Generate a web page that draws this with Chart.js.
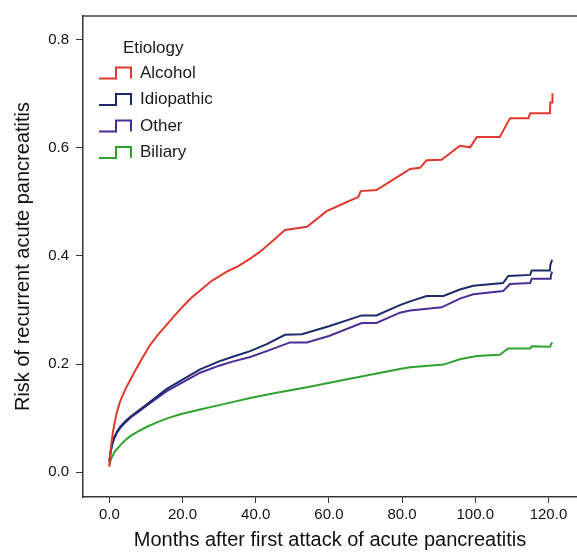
<!DOCTYPE html>
<html>
<head>
<meta charset="utf-8">
<script src="https://cdn.jsdelivr.net/npm/chart.js@4/dist/chart.umd.min.js"></script>
<style>
  html, body { margin: 0; padding: 0; background: #fff; }
  #wrap { width: 577px; height: 552px; }
</style>
</head>
<body>
<div id="wrap"><canvas id="riskChart" width="577" height="552"></canvas></div>
<script>
// Cumulative risk of recurrence
const alcoholMonths = [0, 0.2, 0.5, 1, 1.5, 2.1, 3, 4.5, 6.6, 8.5, 11.2, 13.5, 15.7, 18, 20.3, 22.5, 24.8, 28, 32.1, 34.9, 38.5, 41.2, 45, 48, 54, 59.4, 64, 68, 68.7, 73, 79.4, 82.2, 84.9, 86.7, 90.8, 95.8, 98.6, 100.4, 106.7, 109.5, 114.5, 115, 120.4, 120.5, 121, 121.1];
const alcoholRisk = [0.01, 0.03, 0.05, 0.075, 0.093, 0.112, 0.132, 0.155, 0.182, 0.205, 0.236, 0.256, 0.273, 0.291, 0.308, 0.323, 0.336, 0.354, 0.371, 0.38, 0.395, 0.408, 0.43, 0.448, 0.454, 0.483, 0.497, 0.509, 0.52, 0.522, 0.549, 0.561, 0.563, 0.577, 0.578, 0.604, 0.601, 0.62, 0.62, 0.655, 0.655, 0.664, 0.664, 0.684, 0.684, 0.701];

const idiopathicMonths = [0, 0.3, 0.7, 1.2, 2, 3, 4.5, 6, 8, 10, 13, 15.7, 19.4, 24.8, 30, 33.9, 38.5, 43, 48, 52.6, 60, 69, 73, 79.4, 82.2, 86.7, 91.3, 95.8, 99.5, 107.6, 109, 115, 115.4, 120.4, 120.5, 121];
const idiopathicRisk = [0.02, 0.036, 0.05, 0.062, 0.074, 0.084, 0.095, 0.104, 0.114, 0.124, 0.14, 0.154, 0.169, 0.19, 0.205, 0.214, 0.224, 0.237, 0.254, 0.255, 0.27, 0.29, 0.29, 0.309, 0.316, 0.326, 0.326, 0.338, 0.345, 0.35, 0.363, 0.365, 0.373, 0.373, 0.383, 0.393];

const otherMonths = [0, 0.3, 0.7, 1.2, 2, 3, 4.5, 6, 8, 10, 13, 15.7, 19.4, 24.8, 30, 33.9, 38.5, 43, 49.4, 54, 60, 69, 73, 79.4, 82.2, 90.8, 95.8, 99.5, 107.6, 109.5, 115, 115.4, 120.6, 120.7, 121];
const otherRisk = [0.02, 0.035, 0.049, 0.06, 0.072, 0.082, 0.093, 0.102, 0.112, 0.122, 0.137, 0.15, 0.164, 0.184, 0.197, 0.205, 0.213, 0.224, 0.24, 0.24, 0.252, 0.276, 0.276, 0.295, 0.299, 0.305, 0.321, 0.329, 0.335, 0.348, 0.35, 0.358, 0.358, 0.365, 0.371];

const biliaryMonths = [0, 0.3, 0.7, 1.5, 3, 4.5, 6, 8, 10.3, 13, 16, 19.4, 24.8, 30, 33.9, 38.5, 45, 54, 65, 79.4, 82.2, 91.3, 95.8, 100.4, 106.7, 109, 115, 115.4, 120.4, 121];
const biliaryRisk = [0.013, 0.021, 0.028, 0.038, 0.05, 0.06, 0.068, 0.076, 0.084, 0.092, 0.1, 0.107, 0.116, 0.124, 0.13, 0.137, 0.146, 0.157, 0.172, 0.191, 0.194, 0.199, 0.209, 0.215, 0.217, 0.229, 0.229, 0.233, 0.232, 0.24];

const seriesLabels = ['Alcohol', 'Idiopathic', 'Other', 'Biliary'];
const seriesColors = ['#e0392e', '#1c2a6a', '#4a2e98', '#2fa32f'];
const xTickValues = [0, 20, 40, 60, 80, 100, 120];
const yTickValues = [0, 0.2, 0.4, 0.6, 0.8];

const FONT = '"Liberation Sans", Arial, sans-serif';
const AXIS_COLOR = '#333';

function toPoints(months, risk) {
    return months.map((m, i) => ({ x: m, y: risk[i] }));
}

// top frame line + in-plot legend with step-shaped keys
const framePlugin = {
    id: 'frameAndLegend',
    afterDraw(chart) {
        const { ctx, chartArea } = chart;
        ctx.save();
        ctx.strokeStyle = '#444';
        ctx.lineWidth = 1.5;
        ctx.beginPath();
        ctx.moveTo(chartArea.left, chartArea.top);
        ctx.lineTo(chartArea.right, chartArea.top);
        ctx.stroke();

        ctx.font = '17px ' + FONT;
        ctx.fillStyle = '#1a1a1a';
        ctx.textBaseline = 'middle';
        ctx.fillText('Etiology', 123, 48);

        chart.data.datasets.forEach((ds, i) => {
            const cy = 73 + i * 26.5;
            ctx.strokeStyle = ds.borderColor;
            ctx.lineWidth = 2;
            ctx.beginPath();
            ctx.moveTo(99, cy + 5.5);
            ctx.lineTo(116, cy + 5.5);
            ctx.lineTo(116, cy - 5.5);
            ctx.lineTo(131, cy - 5.5);
            ctx.lineTo(131, cy + 5.5);
            ctx.stroke();
            ctx.fillStyle = '#1a1a1a';
            ctx.fillText(ds.label, 140, cy);
        });
        ctx.restore();
    }
};

function initRiskChart() {
    const ctx = document.getElementById('riskChart').getContext('2d');
    const sources = [
        [alcoholMonths, alcoholRisk],
        [idiopathicMonths, idiopathicRisk],
        [otherMonths, otherRisk],
        [biliaryMonths, biliaryRisk]
    ];

    new Chart(ctx, {
        type: 'line',
        data: {
            datasets: sources.map(([m, r], i) => ({
                label: seriesLabels[i],
                data: toPoints(m, r),
                borderColor: seriesColors[i],
                backgroundColor: seriesColors[i],
                borderWidth: 2,
                pointRadius: 0,
                tension: 0,
                fill: false
            }))
        },
        options: {
            responsive: false,
            animation: false,
            devicePixelRatio: 1,
            layout: { padding: { top: 13, right: 0, left: 0, bottom: 0 } },
            plugins: {
                legend: { display: false },
                tooltip: { enabled: false }
            },
            scales: {
                x: {
                    type: 'linear',
                    min: -7.2,
                    max: 127.8,
                    afterBuildTicks: (scale) => { scale.ticks = xTickValues.map(v => ({ value: v })); },
                    afterFit: (scale) => { scale.height = 55; },
                    grid: { drawOnChartArea: false, tickLength: 6, color: AXIS_COLOR, tickWidth: 1 },
                    border: { display: true, color: AXIS_COLOR, width: 1.5 },
                    ticks: {
                        padding: 3,
                        color: '#111',
                        font: { family: FONT, size: 15 },
                        maxRotation: 0,
                        autoSkip: false,
                        callback: (v) => Number(v).toFixed(1)
                    },
                    title: {
                        display: true,
                        text: 'Months after first attack of acute pancreatitis',
                        color: '#111',
                        font: { family: FONT, size: 20 },
                        padding: { top: 0, bottom: 0 }
                    }
                },
                y: {
                    min: -0.046,
                    max: 0.844,
                    afterBuildTicks: (scale) => { scale.ticks = yTickValues.map(v => ({ value: v })); },
                    afterFit: (scale) => { scale.width = 83; },
                    grid: { drawOnChartArea: false, tickLength: 7, color: AXIS_COLOR, tickWidth: 1 },
                    border: { display: true, color: AXIS_COLOR, width: 1.5 },
                    ticks: {
                        padding: 7,
                        color: '#111',
                        font: { family: FONT, size: 15 },
                        autoSkip: false,
                        callback: (v) => Number(v).toFixed(1)
                    },
                    title: {
                        display: true,
                        text: 'Risk of recurrent acute pancreatitis',
                        color: '#111',
                        font: { family: FONT, size: 20 },
                        padding: { top: 11, bottom: 0 }
                    }
                }
            }
        },
        plugins: [framePlugin]
    });
}

document.addEventListener('DOMContentLoaded', initRiskChart);
</script>
</body>
</html>
